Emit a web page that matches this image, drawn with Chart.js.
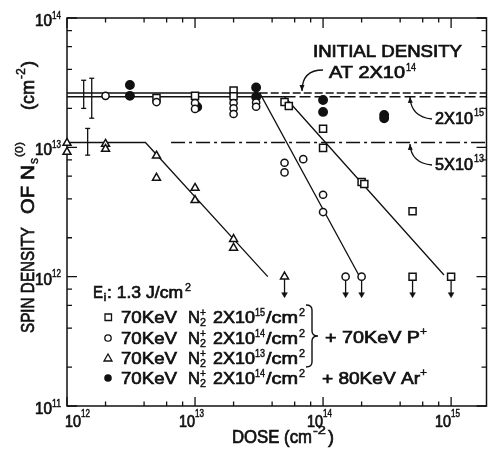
<!DOCTYPE html>
<html>
<head>
<meta charset="utf-8">
<script src="https://cdn.jsdelivr.net/npm/chart.js@4.4.1/dist/chart.umd.min.js"></script>
<style>html,body{margin:0;padding:0;background:#fff}canvas{display:block}</style>
</head>
<body>
<canvas id="c" width="493" height="451"></canvas>
<script>
// open squares: 70KeV N2+ 2x10^15 + P+
var squareX = [5e12, 1e13, 2e13, 2e13, 5e13, 5.4e13, 1e14, 1e14, 2e14, 2.1e14, 5e14, 5e14, 1e15];
var squareY = [2.41e13, 2.5e13, 2.75e13, 2.48e13, 2.24e13, 2.09e13, 1.39e13, 9.9e12, 5.4e12, 5.2e12, 3.2e12, 1e12, 1e12];
// open circles: 2x10^14 + P+
var circleX = [2e12, 5e12, 1e13, 1e13, 2e13, 2e13, 2e13, 3e13, 3e13, 5e13, 5e13, 7e13, 1e14, 1e14, 1.5e14, 2e14];
var circleY = [2.5e13, 2.24e13, 2.2e13, 1.98e13, 2.2e13, 2.0e13, 1.81e13, 2.22e13, 2.06e13, 7.6e12, 6.4e12, 8.1e12, 4.3e12, 3.16e12, 1e12, 1e12];
// triangles: 5x10^13 + P+
var triangleX = [1e12, 1e12, 2e12, 2e12, 5e12, 5e12, 1e13, 1e13, 2e13, 2e13, 5e13];
var triangleY = [1.08e13, 9.2e12, 1.06e13, 9.7e12, 8.6e12, 5.8e12, 4.85e12, 3.9e12, 1.95e12, 1.67e12, 1e12];
// filled circles: 2x10^14 + Ar+
var filledX = [3.1e12, 3.1e12, 1.04e13, 3e13, 3e13, 1e14, 1e14, 3e14, 3e14];
var filledY = [3.03e13, 2.5e13, 2.05e13, 2.9e13, 2.45e13, 2.32e13, 1.88e13, 1.78e13, 1.68e13];

// error bars
var errX = [1.35e12, 1.56e12, 1.45e12];
var errLow = [2.0e13, 1.68e13, 8.7e12];
var errHigh = [3.3e13, 3.42e13, 1.4e13];

// upper limits (arrows down)
var arrowX = [5e13, 1.5e14, 2e14, 5e14, 1e15];
var arrowFrom = 1e12, arrowTo = 7.3e11;

// fitted lines
var fitCircleX = [1e12, 3.2e13, 1.9e14], fitCircleY = [2.63e13, 2.63e13, 1.03e12];
var fitSquareX = [1e12, 5e13, 8.8e14], fitSquareY = [2.46e13, 2.46e13, 1.03e12];
var fitTriX = [1e12, 4.1e12, 3.7e13], fitTriY = [1.09e13, 1.09e13, 1e12];
// initial density reference lines
var refInitX = [3.2e13, 1.9e15], refInitY = [2.63e13, 2.63e13];
var ref15X = [5e13, 1.9e15], ref15Y = [2.46e13, 2.46e13];
var ref13X = [6.5e12, 1.9e15], ref13Y = [1.09e13, 1.09e13];

var xDecades = [1e12, 1e13, 1e14, 1e15];
var yDecades = [1e11, 1e12, 1e13, 1e14];
var minorSteps = [2, 4, 6, 8];

var INK = '#111';
var FONT = '"Liberation Sans", Arial, sans-serif';

function pts(xs, ys) {
  return xs.map(function (x, i) { return { x: x, y: ys[i] }; });
}

function marker(xs, ys, style, r, fill) {
  return {
    data: pts(xs, ys), showLine: false, pointStyle: style, pointRadius: r,
    pointBorderWidth: 1.5, pointBorderColor: INK, pointBackgroundColor: fill,
    clip: false, order: 1
  };
}

function line(xs, ys, dash) {
  return {
    data: pts(xs, ys), showLine: true, pointRadius: 0, borderColor: INK,
    borderWidth: 1.3, borderDash: dash || [], clip: false, order: 5
  };
}

var datasets = [
  marker(circleX, circleY, 'circle', 3.6, '#fff'),
  marker(squareX, squareY, 'rect', 5, '#fff'),
  marker(triangleX, triangleY, 'triangle', 4.6, '#fff'),
  marker(filledX, filledY, 'circle', 4.2, INK),
  line(fitCircleX, fitCircleY),
  line(fitSquareX, fitSquareY),
  line(fitTriX, fitTriY),
  line(refInitX, refInitY, [8, 3]),
  line(ref15X, ref15Y, [11, 4]),
  line(ref13X, ref13Y, [14, 4, 3, 4])
];

errX.forEach(function (x, i) {
  datasets.push({
    data: [{ x: x, y: errLow[i] }, { x: x, y: errHigh[i] }], showLine: true,
    borderColor: INK, borderWidth: 1.3, pointStyle: 'line', pointRadius: 2.5,
    pointBorderColor: INK, pointBorderWidth: 1.3, clip: false, order: 4
  });
});

arrowX.forEach(function (x) {
  datasets.push({
    data: [{ x: x, y: arrowFrom }, { x: x, y: arrowTo }], showLine: true,
    borderColor: INK, borderWidth: 1.3, pointStyle: 'triangle', pointRotation: 180,
    pointRadius: [0, 3.3], pointBackgroundColor: INK, pointBorderWidth: 0.5,
    pointBorderColor: INK, clip: false, order: 3
  });
});

// text piece: left x, baseline y, font size, target width
function txt(ctx, s, x, y, size, w) {
  ctx.save();
  ctx.font = size + 'px ' + FONT;
  var m = ctx.measureText(s).width;
  var sx = w ? w / m : 1;
  ctx.translate(x, y);
  ctx.scale(sx, 1);
  ctx.textBaseline = 'alphabetic';
  ctx.lineWidth = size > 12 ? 0.7 : 0.45;
  ctx.fillText(s, 0, 0);
  ctx.strokeText(s, 0, 0);
  ctx.restore();
  return x + m * sx;
}

function curvedArrow(ctx, x0, y0, cx, cy, x1, y1) {
  ctx.beginPath();
  ctx.moveTo(x0, y0);
  ctx.quadraticCurveTo(cx, cy, x1, y1);
  ctx.stroke();
  var a = Math.atan2(y1 - cy, x1 - cx);
  ctx.beginPath();
  ctx.moveTo(x1, y1);
  ctx.lineTo(x1 - 6 * Math.cos(a) + 2.5 * Math.sin(a), y1 - 6 * Math.sin(a) - 2.5 * Math.cos(a));
  ctx.lineTo(x1 - 6 * Math.cos(a) - 2.5 * Math.sin(a), y1 - 6 * Math.sin(a) + 2.5 * Math.cos(a));
  ctx.closePath();
  ctx.fill();
}

var framePlugin = {
  id: 'frame',
  beforeDatasetsDraw: function (chart) {
    var ctx = chart.ctx, a = chart.chartArea;
    var xs = chart.scales.x, ys = chart.scales.y;
    ctx.save();
    ctx.strokeStyle = INK;
    ctx.lineWidth = 1.5;
    ctx.strokeRect(a.left, a.top, a.right - a.left, a.bottom - a.top);
    ctx.lineWidth = 1.3;
    ctx.beginPath();
    xDecades.forEach(function (d) {
      var steps = [1].concat(minorSteps);
      steps.forEach(function (m) {
        var v = d * m;
        if (v > xs.max) return;
        var px = xs.getPixelForValue(v), len = m === 1 ? 9 : 4.5;
        ctx.moveTo(px, a.bottom); ctx.lineTo(px, a.bottom - len);
        ctx.moveTo(px, a.top); ctx.lineTo(px, a.top + len + (m === 1 ? 1 : 0));
      });
    });
    yDecades.forEach(function (d) {
      var steps = [1].concat(minorSteps);
      steps.forEach(function (m) {
        var v = d * m;
        if (v > ys.max) return;
        var py = ys.getPixelForValue(v), len = m === 1 ? 10 : 5;
        ctx.moveTo(a.left, py); ctx.lineTo(a.left + len, py);
        ctx.moveTo(a.right, py); ctx.lineTo(a.right - len, py);
      });
    });
    ctx.stroke();
    ctx.restore();
  },
  afterDraw: function (chart) {
    var ctx = chart.ctx, a = chart.chartArea;
    var xs = chart.scales.x, ys = chart.scales.y;
    ctx.save();
    ctx.fillStyle = INK;
    ctx.strokeStyle = INK;

    // tick labels
    xDecades.forEach(function (d) {
      var px = xs.getPixelForValue(d);
      var left = Math.max(px - 16, a.left - 2);
      var e = String(Math.round(Math.log10(d)));
      var end = txt(ctx, '10', left, 427, 16, 16);
      txt(ctx, e, end, 417, 10, 9);
    });
    yDecades.forEach(function (d) {
      var py = ys.getPixelForValue(d);
      var e = String(Math.round(Math.log10(d)));
      var end = txt(ctx, '10', 35, py + 8, 16, 17);
      txt(ctx, e, end, py + 0.5, 10, 9);
    });

    // axis titles
    var e2 = txt(ctx, 'DOSE (cm', 232, 443, 18, 80);
    e2 = txt(ctx, '-2', e2 + 1, 434, 11, 13);
    txt(ctx, ')', e2 + 2, 443, 18, 6);

    ctx.save();
    ctx.translate(34, 333);
    ctx.rotate(-Math.PI / 2);
    txt(ctx, 'SPIN DENSITY', 0, 0, 19, 106);
    txt(ctx, 'OF', 119, 0, 19, 28);
    txt(ctx, 'N', 153, 0, 19, 15);
    txt(ctx, 's', 169, 4, 12, 6);
    txt(ctx, '(0)', 176, -11, 11, 15);
    var t = txt(ctx, '(cm', 223, 0, 19, 30);
    t = txt(ctx, '-2', t + 1, -9, 12, 11);
    txt(ctx, ')', t + 1, 0, 19, 6);
    ctx.restore();

    // annotations
    txt(ctx, 'INITIAL DENSITY', 313, 57, 16, 149);
    var at = txt(ctx, 'AT 2X10', 329, 78, 16, 76);
    txt(ctx, '14', at + 1, 71, 10, 10);
    var s15 = txt(ctx, '2X10', 435, 124, 16, 38);
    txt(ctx, '15', s15 + 1, 116, 10, 10);
    var s13 = txt(ctx, '5X10', 435, 170, 16, 38);
    txt(ctx, '13', s13 + 1, 162, 10, 10);
    ctx.lineWidth = 1.3;
    curvedArrow(ctx, 323, 70, 302, 70, 302, 91);
    curvedArrow(ctx, 432, 119, 411, 117, 410, 97);
    curvedArrow(ctx, 432, 165, 411, 163, 410, 144);

    // legend
    var ee = txt(ctx, 'E', 93, 298, 17, 10);
    txt(ctx, 'i', ee + 0.5, 301, 11, 3);
    var ec = txt(ctx, ': 1.3 J/cm', 107, 298, 17, 76);
    txt(ctx, '2', ec + 2, 291, 11, 6);

    var rows = [
      { c: 317, exp: '15', shape: 'square' },
      { c: 338, exp: '14', shape: 'circle' },
      { c: 358, exp: '13', shape: 'triangle' },
      { c: 378, exp: '14', shape: 'filled' }
    ];
    rows.forEach(function (r) {
      var b = r.c + 6;
      ctx.lineWidth = 1.3;
      ctx.beginPath();
      if (r.shape === 'square') {
        ctx.rect(105, r.c - 3, 6.5, 6.5);
        ctx.stroke();
      } else if (r.shape === 'circle') {
        ctx.arc(108, r.c, 3.2, 0, Math.PI * 2);
        ctx.stroke();
      } else if (r.shape === 'triangle') {
        ctx.moveTo(108, r.c - 4); ctx.lineTo(112, r.c + 3); ctx.lineTo(104, r.c + 3); ctx.closePath();
        ctx.stroke();
      } else {
        ctx.arc(108, r.c, 3.8, 0, Math.PI * 2);
        ctx.fill();
      }
      txt(ctx, '70KeV', 121, b, 17, 56);
      txt(ctx, 'N', 188, b, 17, 12);
      txt(ctx, '2', 200, b + 3, 11, 6);
      txt(ctx, '+', 200, b - 7, 11, 6);
      var xx = txt(ctx, '2X10', 213, b, 17, 42);
      txt(ctx, r.exp, xx, b - 7, 10, 10);
      var cm = txt(ctx, '/cm', 266, b, 17, 32);
      txt(ctx, '2', cm + 1, b - 7, 10, 6);
    });
    // brace
    ctx.lineWidth = 1.4;
    ctx.beginPath();
    ctx.moveTo(306, 305);
    ctx.quadraticCurveTo(312, 305, 312, 310);
    ctx.lineTo(312, 331);
    ctx.quadraticCurveTo(312, 336, 318, 336);
    ctx.quadraticCurveTo(312, 336, 312, 341);
    ctx.lineTo(312, 362);
    ctx.quadraticCurveTo(312, 367, 306, 367);
    ctx.stroke();
    var p1 = txt(ctx, '+ 70KeV P', 325, 343, 17, 95);
    txt(ctx, '+', p1, 335, 11, 7);
    var p2 = txt(ctx, '+ 80KeV Ar', 322, 384, 17, 98);
    txt(ctx, '+', p2, 376, 11, 7);
    ctx.restore();
  }
};

new Chart(document.getElementById('c'), {
  type: 'scatter',
  data: { datasets: datasets },
  options: {
    responsive: false,
    animation: false,
    layout: { padding: { left: 67, top: 18, right: 0, bottom: 45 } },
    plugins: { legend: { display: false }, tooltip: { enabled: false } },
    scales: {
      x: { type: 'logarithmic', min: 1e12, max: 1.89e15, display: false },
      y: { type: 'logarithmic', min: 1e11, max: 1e14, display: false }
    }
  },
  plugins: [framePlugin]
});
</script>
</body>
</html>
